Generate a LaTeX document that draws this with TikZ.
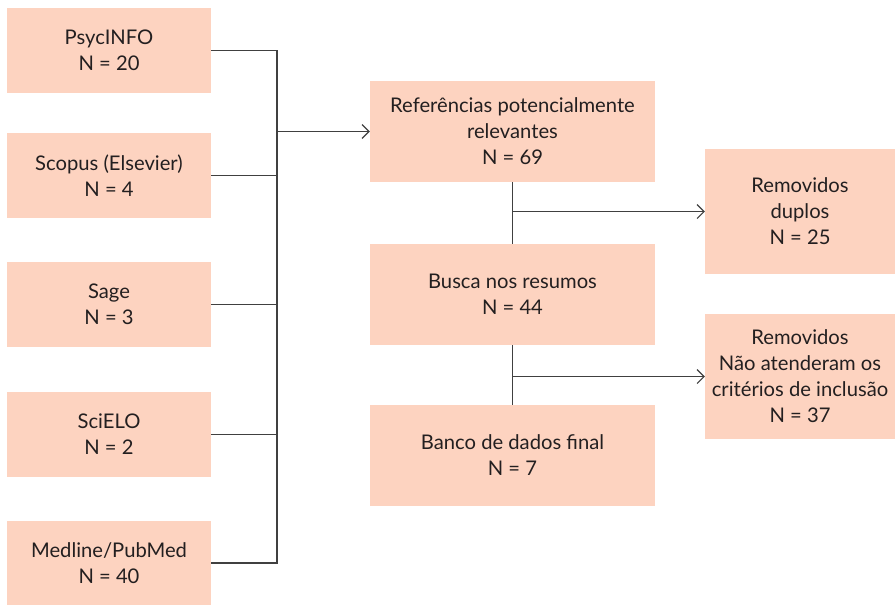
\documentclass[tikz,border=0pt]{standalone}
\usepackage{fontspec}
\setmainfont{Lato}
\usetikzlibrary{arrows.meta}
\definecolor{boxfill}{HTML}{FDD3C0}
\definecolor{linec}{HTML}{404040}
\definecolor{textc}{HTML}{231F20}
\tikzset{
  box/.style={fill=boxfill, draw=none, inner sep=0pt, align=center, text=textc,
    font=\fontsize{20.2}{26}\selectfont},
  conn/.style={draw=linec, line width=1.1pt},
  arr/.style={conn, -{Straight Barb[length=7pt, width=14pt, line width=1.1pt]}}
}
\begin{document}
\begin{tikzpicture}[x=1pt, y=-1pt]
\useasboundingbox (0,0) rectangle (895,605);
% left column
\node[box, minimum width=204pt, minimum height=85pt] (p1) at (109,50.5) {PsycINFO\\N = 20};
\node[box, minimum width=204pt, minimum height=85pt] (p2) at (109,175.5) {Scopus (Elsevier)\\N = 4};
\node[box, minimum width=204pt, minimum height=85pt] (p3) at (109,304.5) {Sage\\N = 3};
\node[box, minimum width=204pt, minimum height=85pt] (p4) at (109,434.5) {SciELO\\N = 2};
\node[box, minimum width=204pt, minimum height=84pt] (p5) at (109,563) {Medline/PubMed\\N = 40};
% middle column
\node[box, minimum width=285pt, minimum height=101pt] (a) at (512.5,131.5) {Referências potencialmente\\relevantes\\N = 69};
\node[box, minimum width=285pt, minimum height=101pt] (b) at (512.5,294.5) {Busca nos resumos\\N = 44};
\node[box, minimum width=285pt, minimum height=101pt] (c) at (512.5,455.5) {Banco de dados final\\N = 7};
% right column
\node[box, minimum width=190pt, minimum height=125pt] (d) at (800,211.5) {Removidos\\duplos\\N = 25};
\node[box, minimum width=190pt, minimum height=125pt] (e) at (800,376.5) {Removidos\\Não atenderam os\\critérios de inclusão\\N = 37};
% bus
\coordinate (bus) at (277,0);
\draw[conn] (p1.east) -- (p1.east -| bus) -- (p5.east -| bus) -- (p5.east);
\draw[conn] (p2.east) -- (p2.east -| bus);
\draw[conn] (p3.east) -- (p3.east -| bus);
\draw[conn] (p4.east) -- (p4.east -| bus);
\draw[arr] (a.west -| bus) -- (a.west);
% middle connectors
\draw[conn] (a.south) -- (b.north);
\draw[arr] (a.south |- d.west) -- (d.west);
\draw[conn] (b.south) -- (c.north);
\draw[arr] (b.south |- e.west) -- (e.west);
\end{tikzpicture}
\end{document}
